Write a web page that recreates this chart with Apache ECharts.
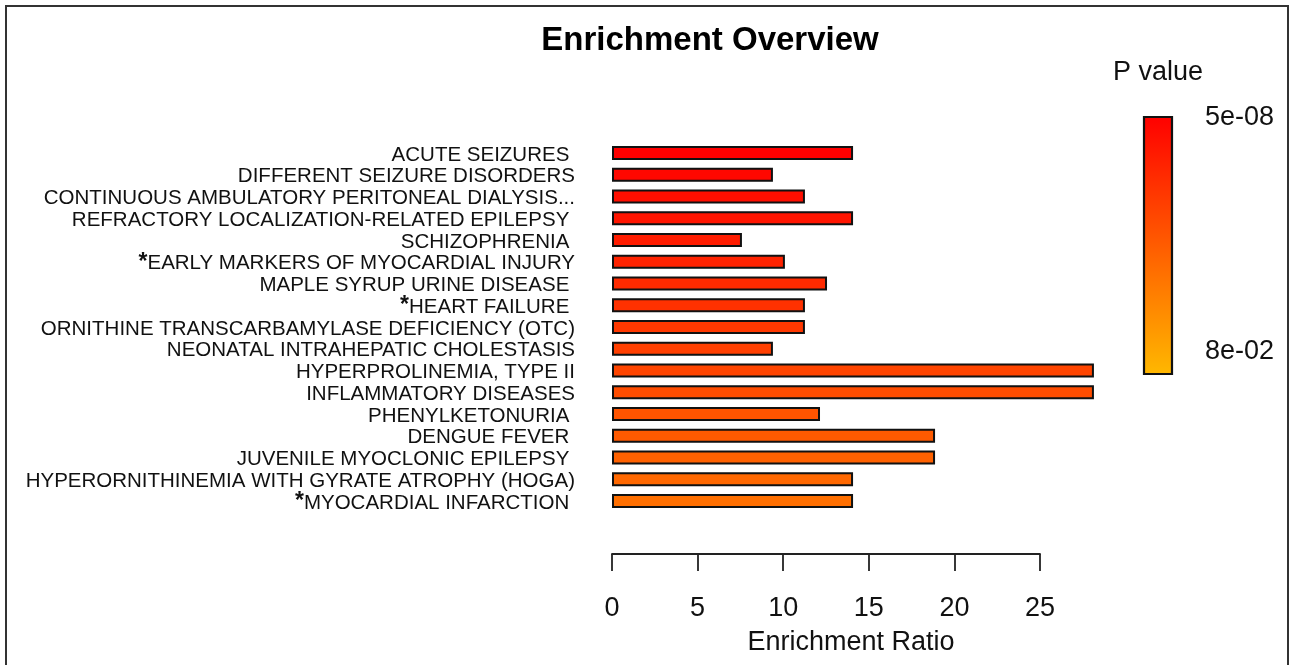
<!DOCTYPE html>
<html>
<head>
<meta charset="utf-8">
<script src="https://cdn.jsdelivr.net/npm/echarts@6/dist/echarts.min.js"></script>
<style>
html,body{margin:0;padding:0;background:#fff;}
#chart{width:1292px;height:665px;}
</style>
</head>
<body>
<div id="chart"></div>
<script>
// Terms (top to bottom); a trailing space is part of some original labels
const terms = [
  "ACUTE SEIZURES ",
  "DIFFERENT SEIZURE DISORDERS",
  "CONTINUOUS AMBULATORY PERITONEAL DIALYSIS...",
  "REFRACTORY LOCALIZATION-RELATED EPILEPSY ",
  "SCHIZOPHRENIA ",
  "*EARLY MARKERS OF MYOCARDIAL INJURY",
  "MAPLE SYRUP URINE DISEASE ",
  "*HEART FAILURE ",
  "ORNITHINE TRANSCARBAMYLASE DEFICIENCY (OTC)",
  "NEONATAL INTRAHEPATIC CHOLESTASIS",
  "HYPERPROLINEMIA, TYPE II",
  "INFLAMMATORY DISEASES",
  "PHENYLKETONURIA ",
  "DENGUE FEVER ",
  "JUVENILE MYOCLONIC EPILEPSY ",
  "HYPERORNITHINEMIA WITH GYRATE ATROPHY (HOGA)",
  "*MYOCARDIAL INFARCTION "
];
// Enrichment ratios
const enrichmentRatio = [14.08, 9.4, 11.27, 14.08, 7.59, 10.1, 12.56, 11.27, 11.27, 9.4, 28.15, 28.15, 12.15, 18.87, 18.87, 14.08, 14.08];
// P values
const pValues = [5.0e-8, 8.6e-8, 1.5e-7, 2.5e-7, 4.3e-7, 7.4e-7, 1.3e-6, 2.2e-6, 3.8e-6, 6.5e-6, 1.1e-5, 1.9e-5, 3.3e-5, 5.6e-5, 9.6e-5, 1.6e-4, 2.8e-4];
const xTicks = [0, 5, 10, 15, 20, 25];
const colorbarLabels = ["5e-08", "8e-02"];
const pRange = [5e-8, 8e-2];

const chart = echarts.init(document.getElementById('chart'), null, {renderer: 'canvas'});
const font = "'Liberation Sans', Arial, sans-serif";

const data = terms.map((t, i) => ({value: [enrichmentRatio[i], t, Math.log10(pValues[i])]}));

chart.setOption({
  animation: false,
  backgroundColor: '#fff',
  textStyle: {fontFamily: font},
  title: {
    text: 'Enrichment Overview',
    left: 705, top: 19, textAlign: 'center',
    textStyle: {fontSize: 33, fontWeight: 'bold', color: '#000', fontFamily: font}
  },
  grid: {left: 612, right: 252, top: 142.1, bottom: 153.1},
  visualMap: {
    show: false, type: 'continuous', dimension: 2, seriesIndex: 0,
    min: Math.log10(pRange[0]), max: Math.log10(pRange[1]),
    inRange: {color: ['#FF0000', '#FFB800']}
  },
  xAxis: {
    type: 'value', min: 0, max: 25, interval: 5,
    offset: 42,
    axisLine: {show: true, lineStyle: {color: '#222', width: 1.8}},
    axisTick: {show: true, length: 17, inside: false, lineStyle: {color: '#222', width: 1.8}},
    splitLine: {show: false},
    axisLabel: {
      margin: 41, fontSize: 27, color: '#111', fontFamily: font,
      formatter: v => xTicks.includes(v) ? String(v) : ''
    },
    name: 'Enrichment Ratio', nameLocation: 'middle', nameGap: 75,
    nameTextStyle: {fontSize: 27, color: '#111', fontFamily: font, padding: [0, 0, 0, 50]}
  },
  yAxis: {
    type: 'category', data: terms, inverse: true,
    axisLine: {show: false}, axisTick: {show: false}, splitLine: {show: false},
    axisLabel: {
      interval: 0,
      margin: 37, fontSize: 20.5, color: '#111', fontFamily: font,
      padding: [4, 0, 0, 0],
      formatter: v => v.startsWith('*') ? '{s|*}' + v.slice(1) : v,
      rich: {s: {fontSize: 23, fontWeight: 'bold', color: '#111', fontFamily: font, padding: [0, 0, 3, 0]}}
    }
  },
  series: [{
    type: 'bar',
    data: data,
    encode: {x: 0, y: 1},
    barWidth: 14,
    clip: false,
    itemStyle: {borderColor: '#111', borderWidth: 2}
  }],
  graphic: [
    {type: 'rect', shape: {x: 6, y: 6, width: 1282, height: 670},
     style: {fill: 'none', stroke: '#333', lineWidth: 2}, silent: true},
    {type: 'rect', shape: {x: 1144, y: 117, width: 28, height: 257},
     style: {
       fill: new echarts.graphic.LinearGradient(0, 0, 0, 1, [
         {offset: 0, color: '#FF0000'}, {offset: 1, color: '#FFB800'}
       ]),
       stroke: '#111', lineWidth: 2.2
     }},
    {type: 'text', x: 1113, y: 73,
     style: {text: 'P value', font: '27px ' + font, fill: '#111', verticalAlign: 'middle', align: 'left'}},
    {type: 'text', x: 1205, y: 118,
     style: {text: colorbarLabels[0], font: '27px ' + font, fill: '#111', verticalAlign: 'middle', align: 'left'}},
    {type: 'text', x: 1205, y: 352,
     style: {text: colorbarLabels[1], font: '27px ' + font, fill: '#111', verticalAlign: 'middle', align: 'left'}}
  ]
});
</script>
</body>
</html>
